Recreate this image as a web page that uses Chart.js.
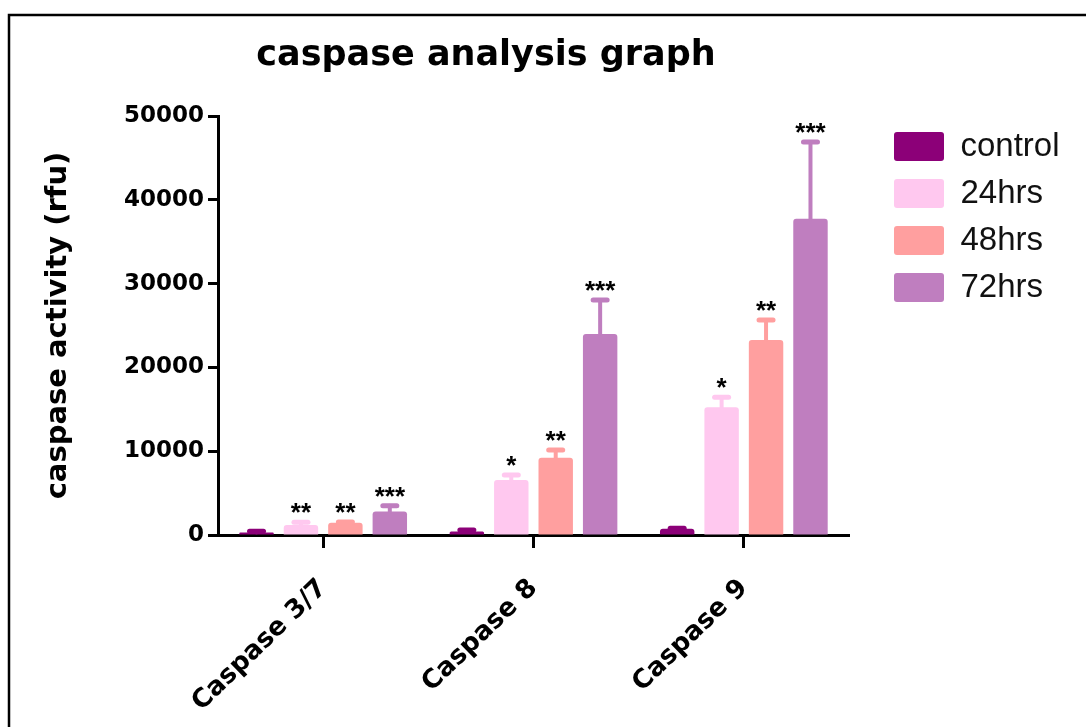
<!DOCTYPE html>
<html><head><meta charset="utf-8">
<script src="https://cdn.jsdelivr.net/npm/chart.js@4/dist/chart.umd.min.js"></script>
<style>html,body{margin:0;padding:0;background:#fff;overflow:hidden}#wrap{width:1086px;height:727px;position:relative}</style>
</head><body><div id="wrap"><canvas id="c" width="1086" height="727"></canvas></div>
<script>
const chartTitle = 'caspase analysis graph';
const yAxisTitle = 'caspase activity (rfu)';
const categories = ['Caspase 3/7', 'Caspase 8', 'Caspase 9'];
const seriesNames = ['control', '24hrs', '48hrs', '72hrs'];
const controlValues = [300, 420, 750];
const hrs24Values = [1200, 6560, 15240];
const hrs48Values = [1470, 9220, 23270];
const hrs72Values = [2790, 23990, 37750];
const controlErrTop = [450, 600, 800];
const hrs24ErrTop = [1510, 7160, 16430];
const hrs48ErrTop = [1560, 10140, 25660];
const hrs72ErrTop = [3500, 28040, 46900];
const controlStars = ['', '', ''];
const hrs24Stars = ['**', '*', '*'];
const hrs48Stars = ['**', '**', '**'];
const hrs72Stars = ['***', '***', '***'];
const yTickValues = [0, 10000, 20000, 30000, 40000, 50000];
const seriesColors = ['#8C0078', '#FFC8EF', '#FF9F9F', '#BF7EBF'];

const seriesValues = [controlValues, hrs24Values, hrs48Values, hrs72Values];
const seriesErr = [controlErrTop, hrs24ErrTop, hrs48ErrTop, hrs72ErrTop];
const seriesStars = [controlStars, hrs24Stars, hrs48Stars, hrs72Stars];

const frameTitlePlugin = {
  id: 'frameTitle',
  beforeDraw(chart) {
    const ctx = chart.ctx;
    ctx.save();
    ctx.fillStyle = '#fff';
    ctx.fillRect(0, 0, chart.width, chart.height);
    ctx.strokeStyle = '#000';
    ctx.lineWidth = 2.5;
    ctx.strokeRect(9, 15, 2000, 2000);
    ctx.fillStyle = '#000';
    ctx.font = 'bold 35px "DejaVu Sans"';
    ctx.textAlign = 'center';
    ctx.textBaseline = 'alphabetic';
    ctx.fillText(chartTitle, 486, 65);
    ctx.restore();
  }
};

const legendRoomPlugin = {
  id: 'legendRoom',
  afterLayout(chart) {
    const l = chart.legend;
    if (l) { l.right += 20; l.width += 20; }
  }
};

const errorBarPlugin = {
  id: 'errorBars',
  afterDatasetsDraw(chart) {
    const ctx = chart.ctx;
    const yScale = chart.scales.y;
    chart.data.datasets.forEach((ds, di) => {
      const meta = chart.getDatasetMeta(di);
      meta.data.forEach((bar, i) => {
        const top = yScale.getPixelForValue(seriesErr[di][i]);
        ctx.save();
        ctx.strokeStyle = ds.backgroundColor;
        ctx.lineCap = 'round';
        ctx.lineWidth = 4;
        ctx.beginPath();
        ctx.moveTo(bar.x, bar.y);
        ctx.lineTo(bar.x, top);
        ctx.stroke();
        ctx.lineWidth = 5;
        ctx.beginPath();
        ctx.moveTo(bar.x - 7, top);
        ctx.lineTo(bar.x + 7, top);
        ctx.stroke();
        const s = seriesStars[di][i];
        if (s) {
          ctx.fillStyle = '#000';
          ctx.font = 'bold 26px "Liberation Sans"';
          ctx.textAlign = 'center';
          ctx.textBaseline = 'alphabetic';
          ctx.fillText(s, bar.x, top - 1);
        }
        ctx.restore();
      });
    });
  }
};

new Chart(document.getElementById('c'), {
  type: 'bar',
  data: {
    labels: categories,
    datasets: seriesNames.map((n, i) => ({
      label: n,
      data: seriesValues[i],
      backgroundColor: seriesColors[i],
      borderWidth: 0,
      borderRadius: 3,
      categoryPercentage: 0.845,
      barPercentage: 0.775
    }))
  },
  options: {
    responsive: false,
    animation: false,
    devicePixelRatio: 1,
    layout: { padding: { left: 10, top: 116, right: 32, bottom: 0 } },
    plugins: {
      title: { display: false },
      tooltip: { enabled: false },
      legend: {
        position: 'right',
        align: 'start',
        fullSize: false,
        labels: {
          boxWidth: 50,
          boxHeight: 29,
          padding: 14,
          useBorderRadius: true,
          borderRadius: 3,
          color: '#111',
          font: { family: '"Liberation Sans", Arial, sans-serif', size: 33 }
        }
      }
    },
    scales: {
      x: {
        offset: true,
        grid: { offset: false, drawOnChartArea: false, drawTicks: true, tickLength: 13, tickWidth: 3, tickColor: '#000' },
        border: { display: true, color: '#000', width: 3 },
        ticks: {
          color: '#000',
          minRotation: 44, maxRotation: 44,
          padding: 25,
          labelOffset: 0,
          font: { family: '"DejaVu Sans"', weight: 'bold', size: 26 }
        },
        afterFit: s => { s.height = 192; }
      },
      y: {
        min: 0, max: 50000,
        afterBuildTicks: s => { s.ticks = yTickValues.map(v => ({ value: v })); },
        grid: { drawOnChartArea: false, drawTicks: true, tickLength: 10, tickWidth: 3, tickColor: '#000' },
        border: { display: true, color: '#000', width: 3 },
        ticks: {
          color: '#000',
          padding: 4,
          callback: v => String(v),
          font: { family: '"DejaVu Sans"', weight: 'bold', size: 23 }
        },
        title: {
          display: true,
          text: yAxisTitle,
          color: '#000',
          padding: { top: 31, bottom: 0 },
          font: { family: '"DejaVu Sans"', weight: 'bold', size: 29 }
        },
        afterFit: s => { s.width = 208; }
      },
      spacer: {
        type: 'linear',
        position: 'right',
        display: true,
        grid: { display: false, drawTicks: false },
        border: { display: false },
        ticks: { display: false },
        afterFit: s => { s.width = 31; }
      }
    }
  },
  plugins: [frameTitlePlugin, legendRoomPlugin, errorBarPlugin]
});
</script>
</body></html>
